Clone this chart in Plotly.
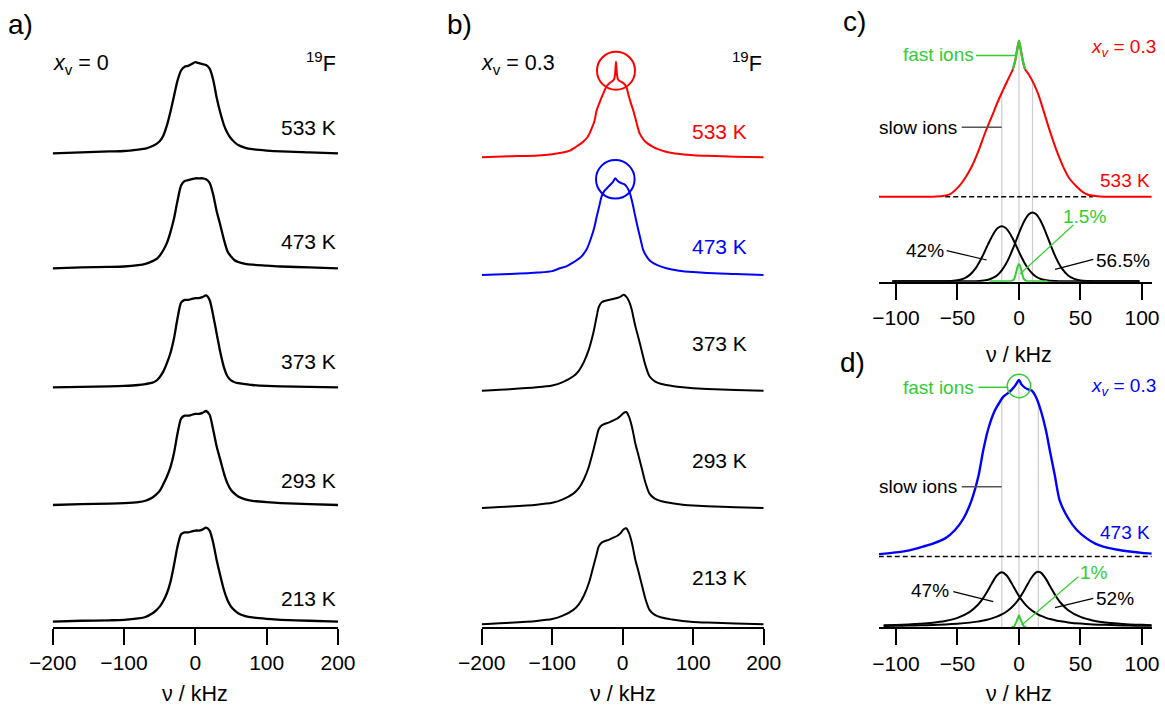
import numpy as np
import plotly.graph_objects as go

W, H = 1165, 708
FONT = "Liberation Sans, Arial, sans-serif"

# ---------------- a) x_v = 0, 19F line shapes (normalised intensity) ----------------
FREQ_A = [-200, -160, -120, -100, -80, -70, -60, -55, -50, -45, -40, -35, -30, -25, -20, -15, -10, -5, 0,
          5, 10, 15, 20, 25, 30, 35, 40, 45, 50, 55, 60, 70, 80, 100, 120, 160, 200]
A_533 = [0.0, 0.01, 0.02, 0.025, 0.04, 0.05, 0.08, 0.10, 0.13, 0.19, 0.30, 0.45, 0.62, 0.79, 0.90, 0.94, 0.95, 0.97, 0.99,
         0.98, 0.97, 0.96, 0.92, 0.80, 0.60, 0.44, 0.31, 0.22, 0.16, 0.12, 0.09, 0.06, 0.045, 0.03, 0.02, 0.01, 0.0]
A_473 = [0.0, 0.01, 0.015, 0.02, 0.035, 0.05, 0.08, 0.10, 0.14, 0.20, 0.28, 0.40, 0.55, 0.75, 0.92, 0.97, 0.98, 0.99, 1.0,
         1.0, 1.0, 0.99, 0.95, 0.82, 0.63, 0.48, 0.32, 0.19, 0.13, 0.09, 0.07, 0.05, 0.04, 0.03, 0.02, 0.01, 0.0]
A_373 = [0.0, 0.005, 0.01, 0.015, 0.025, 0.035, 0.05, 0.07, 0.11, 0.17, 0.26, 0.37, 0.53, 0.75, 0.92, 0.95, 0.95, 0.96, 0.97,
         0.97, 0.98, 1.0, 0.95, 0.78, 0.58, 0.38, 0.22, 0.12, 0.075, 0.055, 0.045, 0.035, 0.025, 0.015, 0.01, 0.005, 0.0]
A_293 = [0.0, 0.01, 0.015, 0.02, 0.03, 0.045, 0.08, 0.11, 0.15, 0.22, 0.30, 0.40, 0.55, 0.76, 0.92, 0.95, 0.95, 0.96, 0.97,
         0.97, 0.98, 1.0, 0.96, 0.80, 0.62, 0.48, 0.34, 0.23, 0.16, 0.12, 0.09, 0.06, 0.045, 0.03, 0.02, 0.01, 0.0]
A_213 = [0.0, 0.01, 0.015, 0.02, 0.035, 0.05, 0.09, 0.12, 0.16, 0.22, 0.30, 0.42, 0.60, 0.80, 0.93, 0.95, 0.95, 0.96, 0.97,
         0.97, 0.98, 1.0, 0.97, 0.84, 0.65, 0.49, 0.34, 0.23, 0.16, 0.12, 0.09, 0.06, 0.045, 0.03, 0.02, 0.01, 0.0]

# ---------------- b) x_v = 0.3, 19F line shapes ----------------
FREQ_B533 = [-200, -160, -120, -100, -85, -75, -66, -60, -55, -50, -47, -43, -40, -37, -33, -28, -23, -18, -14, -12,
             -10.5, -9.5, -8.5, -7, -5, -2, 2, 5, 8, 11, 15, 19, 24, 30, 36, 43, 50, 60, 70, 81, 100, 120, 160, 200]
B_533 = [0.0, 0.01, 0.02, 0.033, 0.05, 0.07, 0.11, 0.14, 0.17, 0.21, 0.25, 0.32, 0.38, 0.49, 0.57, 0.66, 0.74, 0.78, 0.80, 0.82,
         0.90, 1.0, 0.90, 0.82, 0.80, 0.79, 0.77, 0.74, 0.66, 0.58, 0.49, 0.38, 0.25, 0.18, 0.14, 0.11, 0.085, 0.06, 0.045, 0.035,
         0.022, 0.015, 0.007, 0.0]
FREQ_B473 = [-200, -160, -120, -100, -89, -80, -70, -60, -51.5, -45, -40, -37, -33, -30, -26, -22, -18, -14, -10.5, -8,
             -5, -2, 2, 6, 10, 14, 18, 22, 26, 29, 35, 40, 50, 62, 80, 100, 120, 160, 200]
B_473 = [0.0, 0.01, 0.025, 0.04, 0.07, 0.09, 0.13, 0.18, 0.26, 0.38, 0.50, 0.60, 0.72, 0.81, 0.87, 0.90, 0.93, 0.96, 1.0, 0.98,
         0.96, 0.95, 0.94, 0.91, 0.85, 0.74, 0.60, 0.47, 0.35, 0.26, 0.18, 0.14, 0.10, 0.07, 0.045, 0.03, 0.02, 0.01, 0.0]
FREQ_BLOW = [-200, -160, -122, -100, -85, -70, -62, -55, -48, -41.7, -37, -34, -30, -26, -20, -14, -8, -3, 1.5, 5,
             9, 13, 15, 18, 22, 26.5, 32, 38, 45, 55, 70, 85, 100, 120, 160, 200]
B_373 = [0.0, 0.015, 0.035, 0.055, 0.09, 0.15, 0.21, 0.30, 0.43, 0.60, 0.77, 0.87, 0.92, 0.935, 0.945, 0.955, 0.965, 0.98, 1.0, 0.98,
         0.93, 0.84, 0.77, 0.67, 0.56, 0.43, 0.27, 0.15, 0.10, 0.07, 0.05, 0.035, 0.025, 0.018, 0.008, 0.0]
B_293 = [0.0, 0.015, 0.035, 0.055, 0.09, 0.15, 0.21, 0.30, 0.43, 0.60, 0.74, 0.82, 0.86, 0.875, 0.89, 0.91, 0.93, 0.96, 0.99, 1.0,
         0.95, 0.85, 0.78, 0.67, 0.56, 0.43, 0.27, 0.15, 0.10, 0.07, 0.05, 0.035, 0.025, 0.018, 0.008, 0.0]
B_213 = [0.0, 0.015, 0.035, 0.055, 0.09, 0.15, 0.21, 0.30, 0.43, 0.60, 0.73, 0.81, 0.85, 0.865, 0.88, 0.90, 0.92, 0.95, 0.99, 1.0,
         0.95, 0.85, 0.78, 0.67, 0.56, 0.43, 0.27, 0.15, 0.10, 0.07, 0.05, 0.035, 0.025, 0.018, 0.008, 0.0]

# ---------------- c) 533 K, total and deconvolution ----------------
FREQ_C = [-114, -70, -62, -56, -49, -44, -38.5, -33, -27.6, -22, -16.8, -12, -8, -5, -3, -1.5, 0, 1.5, 3, 5,
          8, 12, 16, 20, 24.6, 30, 36, 41, 47, 52, 56, 62, 70, 108]
C_TOTAL = [0.0, 0.0, 0.005, 0.02, 0.077, 0.14, 0.23, 0.35, 0.49, 0.62, 0.74, 0.84, 0.92, 0.98, 1.05, 1.13, 1.2, 1.13, 1.05, 0.98,
           0.94, 0.87, 0.78, 0.66, 0.52, 0.37, 0.23, 0.14, 0.077, 0.035, 0.015, 0.005, 0.0, 0.0]
FREQ_C_COMP = [-103, -60, -55, -50, -45, -40, -35, -30, -25, -20, -17, -14, -11, -8, -5, -2, 0, 2, 5, 8,
               11, 14, 17, 20, 25, 30, 35, 40, 45, 50, 55, 60, 98]
C_SLOW1 = [0.0, 0.001, 0.004, 0.013, 0.037, 0.092, 0.195, 0.353, 0.543, 0.713, 0.777, 0.80, 0.777, 0.713, 0.617, 0.505, 0.427, 0.353, 0.252, 0.17,
           0.108, 0.065, 0.037, 0.02, 0.006, 0.002, 0.0, 0.0, 0.0, 0.0, 0.0, 0.0, 0.0]
C_SLOW2 = [0.0, 0.0, 0.0, 0.0, 0.0, 0.0, 0.0, 0.007, 0.022, 0.058, 0.098, 0.157, 0.239, 0.344, 0.469, 0.607, 0.699, 0.787, 0.899, 0.974,
           1.0, 0.974, 0.899, 0.787, 0.56, 0.344, 0.182, 0.083, 0.033, 0.011, 0.003, 0.001, 0.0]
FREQ_C_FAST = [-24, -8, -6, -4, -3, -2, -1, 0, 1, 2, 3, 4, 6, 8, 23]
C_FAST = [0.0, 0.0, 0.005, 0.03, 0.08, 0.15, 0.22, 0.25, 0.22, 0.15, 0.08, 0.03, 0.005, 0.0, 0.0]

# ---------------- d) 473 K, total and deconvolution ----------------
FREQ_D = [-114, -100, -90, -78, -70, -60, -52, -45, -38.5, -33, -29, -25, -20, -16, -12.7, -8, -4, -2, 0, 2,
          5, 8, 10.3, 14, 18, 22, 25, 29, 33, 40, 47, 55, 62, 68.5, 80, 90, 100, 108]
D_TOTAL = [0.005, 0.015, 0.025, 0.048, 0.065, 0.095, 0.143, 0.21, 0.314, 0.45, 0.60, 0.72, 0.82, 0.87, 0.905, 0.93, 0.96, 0.98, 1.0, 0.975,
           0.955, 0.945, 0.94, 0.90, 0.82, 0.71, 0.60, 0.46, 0.314, 0.21, 0.143, 0.095, 0.065, 0.048, 0.03, 0.02, 0.012, 0.008]
FREQ_D_COMP = [-110, -100, -90, -80, -70, -60, -50, -40, -34, -30, -26, -22, -18, -14, -10, -6, -2, 0, 2, 6,
               10, 14, 15.7, 18, 22, 26, 30, 34, 40, 50, 60, 70, 80, 90, 100, 108]
D_SLOW1 = [0.027, 0.033, 0.042, 0.055, 0.075, 0.107, 0.163, 0.272, 0.386, 0.495, 0.634, 0.792, 0.932, 0.99, 0.932, 0.792, 0.634, 0.56, 0.495, 0.386,
           0.305, 0.244, 0.223, 0.198, 0.163, 0.137, 0.116, 0.099, 0.08, 0.058, 0.044, 0.035, 0.028, 0.023, 0.019, 0.017]
D_SLOW2 = [0.016, 0.019, 0.022, 0.027, 0.034, 0.043, 0.056, 0.076, 0.094, 0.109, 0.128, 0.153, 0.184, 0.225, 0.279, 0.352, 0.45, 0.509, 0.577, 0.731,
           0.887, 0.989, 1.0, 0.98, 0.866, 0.707, 0.556, 0.433, 0.302, 0.179, 0.115, 0.08, 0.058, 0.044, 0.035, 0.029]
FREQ_D_FAST = [-6, -4, -2, 0, 2, 4, 6]
D_FAST = [0.0, 0.0, 0.1, 0.21, 0.1, 0.0, 0.0]

RED, BLUE, GREEN, GREY = "#ff0000", "#0000ff", "#33cc33", "#cccccc"


def px(x, y):
    """pixel position -> paper coordinates"""
    return x / W, 1 - y / H


fig = go.Figure()


def line(xs, ys, axis, color, width=2.0, offset=0.0, scale=1.0, smooth=True):
    fig.add_trace(go.Scatter(
        x=xs, y=[offset + scale * v for v in ys], mode="lines",
        line=dict(color=color, width=width, shape="spline" if smooth else "linear",
                  smoothing=0.7 if smooth else None),
        xaxis="x" + axis, yaxis="y" + axis, showlegend=False, hoverinfo="skip"))


# panel a: baselines (px above axis) and heights
for vals, off, sc in [(A_533, 473.4, 92), (A_473, 358.4, 90), (A_373, 239.4, 92),
                      (A_293, 121.7, 94), (A_213, 5.0, 94)]:
    line(FREQ_A, vals, "", "black", 2.3, off, sc)

# panel b
line(FREQ_B533, B_533, "2", RED, 2.0, 469.4, 95.6)
line(FREQ_B473, B_473, "2", BLUE, 2.0, 351.7, 96.7)
for vals, off in [(B_373, 236.0), (B_293, 118.7), (B_213, 2.4)]:
    line(FREQ_BLOW, vals, "2", "black", 2.0, off, 96)

# panel c
C_OFF, C_SC, C_CSC = 85.0, 130.0, 68.7
fig.add_trace(go.Scatter(x=[-60, 60], y=[C_OFF, C_OFF], mode="lines",
                         line=dict(color="black", width=1.6, dash="5px,3px"),
                         xaxis="x3", yaxis="y3", showlegend=False, hoverinfo="skip"))
line(FREQ_C, C_TOTAL, "3", RED, 2.0, C_OFF, C_SC)
spike = [(f, v) for f, v in zip(FREQ_C, C_TOTAL) if -5 <= f <= 5]
line([s[0] for s in spike], [s[1] for s in spike], "3", GREEN, 2.2, C_OFF, C_SC)
line(FREQ_C_COMP, C_SLOW1, "3", "black", 2.0, 0.5, C_CSC)
line(FREQ_C_COMP, C_SLOW2, "3", "black", 2.0, 0.5, C_CSC)
line(FREQ_C_FAST, C_FAST, "3", GREEN, 2.0, 0.5, C_CSC)

# panel d
D_OFF, D_SC, D_CSC = 72.3, 175.0, 55.0
fig.add_trace(go.Scatter(x=[-114, 108], y=[D_OFF - 1.5, D_OFF - 1.5], mode="lines",
                         line=dict(color="black", width=1.6, dash="5px,3px"),
                         xaxis="x4", yaxis="y4", showlegend=False, hoverinfo="skip"))
line(FREQ_D, D_TOTAL, "4", BLUE, 2.4, D_OFF, D_SC)
line(FREQ_D_COMP, D_SLOW1, "4", "black", 2.0, 0.5, D_CSC)
line(FREQ_D_COMP, D_SLOW2, "4", "black", 2.0, 0.5, D_CSC)
line(FREQ_D_FAST, D_FAST, "4", GREEN, 2.0, 0.5, D_CSC, smooth=False)

shapes = []
# grey guide lines at the component centres
for xc in (-14, 0, 11):
    top = C_OFF + C_SC * float(np.interp(xc, FREQ_C, C_TOTAL))
    shapes.append(dict(type="line", xref="x3", yref="y3", x0=xc, x1=xc, y0=0, y1=top,
                       line=dict(color=GREY, width=1.2), layer="below"))
for xc in (-14, 0, 15.7):
    top = D_OFF + D_SC * float(np.interp(xc, FREQ_D, D_TOTAL))
    shapes.append(dict(type="line", xref="x4", yref="y4", x0=xc, x1=xc, y0=0, y1=top,
                       line=dict(color=GREY, width=1.2), layer="below"))


# circles marking the narrow central line
def circle(axis, xc, yc, r, dy, color, width):
    shapes.append(dict(type="circle", xref="x" + axis, yref="y" + axis,
                       xsizemode="pixel", ysizemode="pixel", xanchor=xc, yanchor=yc,
                       x0=-r, x1=r, y0=dy - r, y1=dy + r, line=dict(color=color, width=width)))


circle("2", -9.5, 469.4 + 95.6, 19, -9, RED, 2.0)
circle("2", -10.5, 351.7 + 96.7, 19.3, -1, BLUE, 2.0)
circle("4", 0, D_OFF + D_SC, 11.7, -6, GREEN, 1.5)


def seg(x0, y0, x1, y1, color, width=1.5):
    a, b = px(x0, y0)
    c, d = px(x1, y1)
    shapes.append(dict(type="line", xref="paper", yref="paper", x0=a, y0=b, x1=c, y1=d,
                       line=dict(color=color, width=width)))


# leader lines
seg(976, 55.5, 1016, 55.5, GREEN)
seg(961.7, 127.3, 1001.7, 127.3, "#555555")
seg(946.7, 250.7, 986.7, 260, "black", 1.2)
seg(1055, 269.3, 1093.3, 259.3, "black", 1.2)
seg(1020, 274, 1073.3, 225, GREEN, 1.2)
seg(978.3, 387.3, 1008, 387.3, GREEN)
seg(961.7, 486.7, 1001.7, 486.7, "#555555")
seg(953.3, 591.7, 993.3, 601.7, "black", 1.2)
seg(1055, 607.7, 1093.3, 598.3, "black", 1.2)
seg(1021.7, 625, 1078.3, 576.7, GREEN, 1.2)

ann = []


def text(s, x, y, size=20, color="black", anchor="left"):
    a, b = px(x, y)
    ann.append(dict(text=s, x=a, y=b, xref="paper", yref="paper", xanchor=anchor, yanchor="middle",
                    showarrow=False, font=dict(family=FONT, size=size, color=color)))


for s, x, y in [("a)", 6, 25), ("b)", 445, 25), ("c)", 841, 22), ("d)", 838, 362)]:
    text(s, x, y, 28)

text("<i>x</i><sub>v</sub> = 0", 51, 64, 21.5)
text("<i>x</i><sub>v</sub> = 0.3", 479, 64, 21.5)
text("<sup>19</sup>F", 338, 62, 21.5, anchor="right")
text("<sup>19</sup>F", 764, 62, 21.5, anchor="right")

for s, y in zip(["533 K", "473 K", "373 K", "293 K", "213 K"], [127, 241.7, 361.7, 480, 598.3]):
    text(s, 338, y, 21, anchor="right")
for s, y, c in zip(["533 K", "473 K", "373 K", "293 K", "213 K"], [131.7, 246.7, 343.3, 460, 577.3],
                   [RED, BLUE, "black", "black", "black"]):
    text(s, 749, y, 21, c, anchor="right")

text("fast ions", 901, 55, 19, GREEN)
text("slow ions", 877, 127.3, 19)
text("<i>x<sub>v</sub></i> = 0.3", 1158, 48, 19, RED, "right")
text("533 K", 1152, 180, 19, RED, "right")
text("42%", 904, 250, 19)
text("56.5%", 1152, 260, 19, anchor="right")
text("1.5%", 1061, 217, 19, GREEN)
text("fast ions", 901, 387, 19, GREEN)
text("slow ions", 877, 486.7, 19)
text("<i>x<sub>v</sub></i> = 0.3", 1158, 387, 19, BLUE, "right")
text("473 K", 1152, 532, 19, BLUE, "right")
text("47%", 909, 590, 19)
text("52%", 1136, 598, 19, anchor="right")
text("1%", 1078, 572, 19, GREEN)

for xc, y in [(195.3, 693.5), (622.7, 693.5), (1019, 355), (1019, 693.5)]:
    text("ν / kHz", xc, y, 21.5, anchor="center")

axis_common = dict(showline=True, linewidth=2, linecolor="black", ticks="outside", ticklen=16, tickwidth=2,
                   tickcolor="black", showgrid=False, zeroline=False, mirror=False, automargin=False,
                   tickfont=dict(family=FONT, size=21, color="black"))
yhidden = dict(visible=False, showgrid=False, zeroline=False, fixedrange=True, automargin=False)

fig.update_layout(
    width=W, height=H, margin=dict(l=0, r=0, t=0, b=0, pad=0, autoexpand=False),
    paper_bgcolor="white", plot_bgcolor="rgba(0,0,0,0)",
    xaxis=dict(domain=[52.7 / W, 338 / W], range=[-200, 200], tickvals=[-200, -100, 0, 100, 200],
               anchor="y", **axis_common),
    yaxis=dict(domain=[1 - 626.7 / H, 1], range=[0, 626.7], anchor="x", **yhidden),
    xaxis2=dict(domain=[481.7 / W, 763.7 / W], range=[-200, 200], tickvals=[-200, -100, 0, 100, 200],
                anchor="y2", **axis_common),
    yaxis2=dict(domain=[1 - 626.7 / H, 1], range=[0, 626.7], anchor="x2", **yhidden),
    xaxis3=dict(domain=[879 / W, 1151.7 / W], range=[-113.8, 107.9], tickvals=[-100, -50, 0, 50, 100],
                anchor="y3", **axis_common),
    yaxis3=dict(domain=[1 - 281.7 / H, 1], range=[0, 281.7], anchor="x3", **yhidden),
    xaxis4=dict(domain=[879 / W, 1151.7 / W], range=[-113.8, 107.9], tickvals=[-100, -50, 0, 50, 100],
                anchor="y4", **axis_common),
    yaxis4=dict(domain=[1 - 627.3 / H, 1 - 340 / H], range=[0, 287.3], anchor="x4", **yhidden),
    shapes=shapes, annotations=ann,
)

fig.write_html("out.html")
